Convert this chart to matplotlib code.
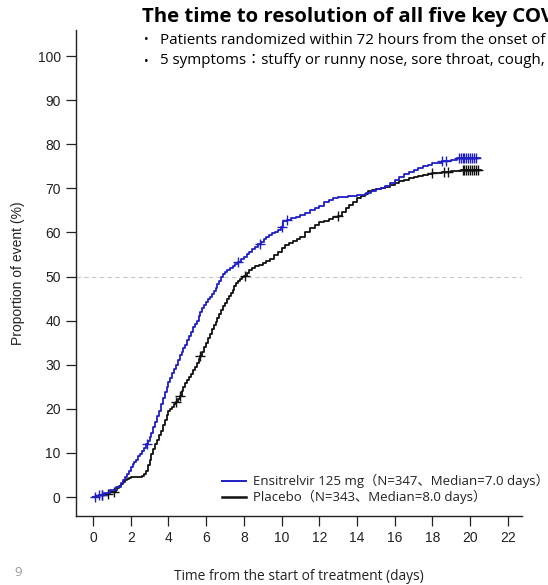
import matplotlib.pyplot as plt
import numpy as np

# Kaplan-Meier style cumulative event curves, (day, % with event)
blueCurve = [(0, 0), (0.3, 0.5), (0.6, 1.0), (0.9, 1.5), (1.2, 2.2), (1.5, 3.2), (1.6, 3.8),
             (1.7, 4.5), (1.8, 5.3), (1.9, 6.0), (2.0, 6.8), (2.1, 7.5), (2.2, 8.0), (2.3, 8.5),
             (2.4, 9.2), (2.5, 9.8), (2.6, 10.4), (2.7, 11.2), (2.8, 12.0), (2.9, 12.8), (3.0, 13.6),
             (3.1, 14.5), (3.2, 15.8), (3.3, 17.0), (3.4, 18.3), (3.5, 19.5), (3.6, 21.0), (3.7, 22.5),
             (3.8, 23.8), (3.9, 25.0), (4.0, 26.0), (4.1, 27.0), (4.2, 28.1), (4.3, 29.0), (4.4, 30.0),
             (4.5, 31.0), (4.6, 32.2), (4.7, 33.0), (4.8, 33.7), (4.9, 34.5), (5.0, 35.6), (5.1, 36.5),
             (5.2, 37.4), (5.3, 38.5), (5.4, 39.3), (5.5, 40.0), (5.6, 41.0), (5.7, 42.0), (5.8, 42.8),
             (5.9, 43.5), (6.0, 44.2), (6.1, 44.8), (6.2, 45.3), (6.3, 46.0), (6.4, 46.8), (6.5, 47.5),
             (6.6, 48.3), (6.7, 49.0), (6.8, 49.8), (6.9, 50.5), (7.0, 51.0), (7.1, 51.5), (7.25, 52.0),
             (7.4, 52.5), (7.55, 52.9), (7.7, 53.3), (7.85, 54.0), (8.0, 54.5), (8.15, 55.0), (8.3, 55.5),
             (8.45, 56.2), (8.6, 56.8), (8.75, 57.3), (8.9, 57.8), (9.05, 58.5), (9.2, 59.0), (9.35, 59.5),
             (9.5, 59.8), (9.65, 60.2), (9.8, 60.5), (9.95, 61.3), (10.1, 62.5), (10.3, 62.8), (10.5, 63.2),
             (10.75, 63.6), (11.0, 64.0), (11.25, 64.5), (11.5, 65.0), (11.75, 65.5), (12.0, 66.0),
             (12.25, 66.8), (12.5, 67.3), (12.75, 67.7), (13.0, 68.0), (13.5, 68.3), (14.0, 68.5),
             (14.5, 69.0), (14.75, 69.4), (15.0, 69.8), (15.25, 70.1), (15.5, 70.5), (15.75, 71.2),
             (16.0, 72.0), (16.25, 72.6), (16.5, 73.2), (16.75, 73.7), (17.0, 74.2), (17.25, 74.6),
             (17.5, 75.0), (17.75, 75.4), (18.0, 75.7), (18.5, 76.2), (19.0, 76.5), (19.3, 76.9),
             (20.5, 76.9)]
blueCensor = [0.1, 0.3, 0.5, 2.85, 7.7, 8.85, 10.0, 10.3, 18.5, 18.7, 19.4, 19.5, 19.6, 19.7,
              19.8, 19.9, 20.0, 20.1, 20.2, 20.3]

blackCurve = [(0, 0), (0.3, 0.4), (0.6, 0.8), (0.9, 1.2), (1.2, 1.6), (1.3, 2.0), (1.4, 2.5),
              (1.5, 3.0), (1.6, 3.5), (1.7, 3.9), (1.8, 4.2), (1.9, 4.4), (2.0, 4.6), (2.6, 4.8),
              (2.7, 5.2), (2.8, 6.0), (2.9, 7.2), (3.0, 8.5), (3.1, 9.8), (3.2, 11.0), (3.3, 12.0),
              (3.4, 13.0), (3.5, 14.0), (3.6, 15.0), (3.7, 16.3), (3.8, 17.5), (3.9, 18.6), (4.0, 19.5),
              (4.1, 20.0), (4.2, 20.5), (4.3, 21.0), (4.4, 21.6), (4.5, 22.3), (4.6, 23.0), (4.7, 24.0),
              (4.8, 25.0), (4.9, 25.8), (5.0, 26.5), (5.1, 27.2), (5.2, 28.0), (5.3, 28.8), (5.4, 29.5),
              (5.5, 30.3), (5.6, 31.2), (5.7, 32.0), (5.8, 33.0), (5.9, 34.0), (6.0, 35.0), (6.1, 36.0),
              (6.2, 37.0), (6.3, 38.0), (6.4, 39.0), (6.5, 39.8), (6.6, 40.5), (6.7, 41.5), (6.8, 42.5),
              (6.9, 43.3), (7.0, 44.0), (7.1, 44.8), (7.2, 45.5), (7.3, 46.2), (7.4, 47.0), (7.5, 47.8),
              (7.6, 48.5), (7.7, 49.0), (7.8, 49.5), (7.9, 49.8), (8.0, 50.2), (8.15, 50.8), (8.3, 51.5),
              (8.45, 52.0), (8.6, 52.3), (8.8, 52.6), (9.0, 53.0), (9.2, 53.5), (9.4, 54.0), (9.6, 54.8),
              (9.8, 55.5), (10.0, 56.4), (10.2, 57.2), (10.4, 57.6), (10.6, 58.0), (10.8, 58.5),
              (11.0, 59.0), (11.25, 60.0), (11.5, 61.0), (11.75, 61.7), (12.0, 62.3), (12.25, 62.7),
              (12.5, 63.0), (12.75, 63.4), (13.0, 63.8), (13.2, 64.6), (13.4, 65.5), (13.6, 66.3),
              (13.8, 67.0), (14.0, 67.7), (14.2, 68.3), (14.4, 68.8), (14.6, 69.3), (14.8, 69.6),
              (15.0, 69.8), (15.25, 70.1), (15.5, 70.4), (15.75, 70.8), (16.0, 71.2), (16.25, 71.6),
              (16.5, 72.0), (16.75, 72.3), (17.0, 72.5), (17.25, 72.8), (17.5, 73.0), (17.75, 73.3),
              (18.0, 73.5), (18.5, 73.8), (19.0, 74.0), (19.5, 74.2), (20.6, 74.2)]
blackCensor = [0.5, 0.8, 1.1, 4.4, 4.6, 5.7, 8.05, 13.0, 18.0, 18.6, 18.8, 19.6, 19.7, 19.8,
               19.9, 20.0, 20.1, 20.2, 20.3, 20.4]

xTicks = list(range(0, 23, 2))
yTicks = list(range(0, 101, 10))

blueLabel = "Ensitrelvir 125 mg（N=347、Median=7.0 days）"
blackLabel = "Placebo（N=343、Median=8.0 days）"
title = "The time to resolution of all five key COVID-19 symptoms"
bullets = ["Patients randomized within 72 hours from the onset of COVID-19",
           "5 symptoms：stuffy or runny nose, sore throat, cough, feverishness, fatigue"]

blueColor = "#1f1fc4"
blackColor = "#111111"
uiFont = ["Open Sans", "Noto Sans CJK JP", "DejaVu Sans"]
axisFont = ["Liberation Sans", "DejaVu Sans"]

blueTimes, blueValues = map(np.array, zip(*blueCurve))
blackTimes, blackValues = map(np.array, zip(*blackCurve))


def stepValue(times, values, t):
    idx = np.searchsorted(times, t, side="right") - 1
    return values[idx]


fig = plt.figure(figsize=(5.48, 5.85), dpi=100)
ax = fig.add_axes([76 / 548, 1 - 516 / 585, (522 - 76) / 548, (516 - 30) / 585])

ax.axhline(50, color="#c8c8c8", linestyle=(0, (4, 3)), linewidth=0.8, zorder=1)

ax.step(blueTimes, blueValues, where="post", color=blueColor, linewidth=1.3, zorder=3)
ax.step(blackTimes, blackValues, where="post", color=blackColor, linewidth=1.3, zorder=2)
ax.plot(blueCensor, stepValue(blueTimes, blueValues, blueCensor), linestyle="",
        marker="+", markersize=7, markeredgewidth=1.0, color=blueColor, zorder=3)
ax.plot(blackCensor, stepValue(blackTimes, blackValues, blackCensor), linestyle="",
        marker="+", markersize=7, markeredgewidth=1.0, color=blackColor, zorder=2)

ax.set_xlim(-0.9, 22.75)
ax.set_ylim(-4.3, 105.9)
ax.set_xticks(xTicks)
ax.set_yticks(yTicks)
ax.spines["top"].set_visible(False)
ax.spines["right"].set_visible(False)
for s in ["left", "bottom"]:
    ax.spines[s].set_linewidth(1.0)
    ax.spines[s].set_color("#222222")
ax.tick_params(axis="both", direction="out", length=7, width=0.9, color="#222222",
               labelsize=10, pad=4)
for lab in ax.get_xticklabels() + ax.get_yticklabels():
    lab.set_family(axisFont)
    lab.set_color("#222222")

ax.set_ylabel("Proportion of event (%)", family=axisFont, fontsize=10, color="#222222",
              labelpad=9)
fig.text(299 / 548, 1 - 576 / 585, "Time from the start of treatment (days)", family=uiFont,
         fontsize=9.9, ha="center", va="center", color="#222222")

# legend drawn by hand to match placement
for yPix, col, lab in [(481, blueColor, blueLabel), (497, blackColor, blackLabel)]:
    yFig = 1 - yPix / 585
    fig.add_artist(plt.Line2D([222 / 548, 246 / 548], [yFig, yFig], color=col,
                              linewidth=1.8 if col == blackColor else 1.4))
    fig.text(253 / 548, yFig, lab, family=uiFont, fontsize=9.5, ha="left", va="center",
             color="#222222")

fig.text(142 / 548, 1 - 17 / 585, title, family=uiFont, fontsize=14.7, fontweight="bold",
         ha="left", va="center", color="black")
for yPix, b in zip([40, 61], bullets):
    fig.text(144 / 548, 1 - yPix / 585, "•", family=uiFont, fontsize=9, ha="left",
             va="center", color="black")
    fig.text(160 / 548, 1 - yPix / 585, b, family=uiFont, fontsize=10.9, ha="left",
             va="center", color="black")

fig.text(18 / 548, 1 - 572 / 585, "9", family=uiFont, fontsize=9.5, ha="center",
         va="center", color="#999999")

plt.savefig("out.png", dpi=100)
